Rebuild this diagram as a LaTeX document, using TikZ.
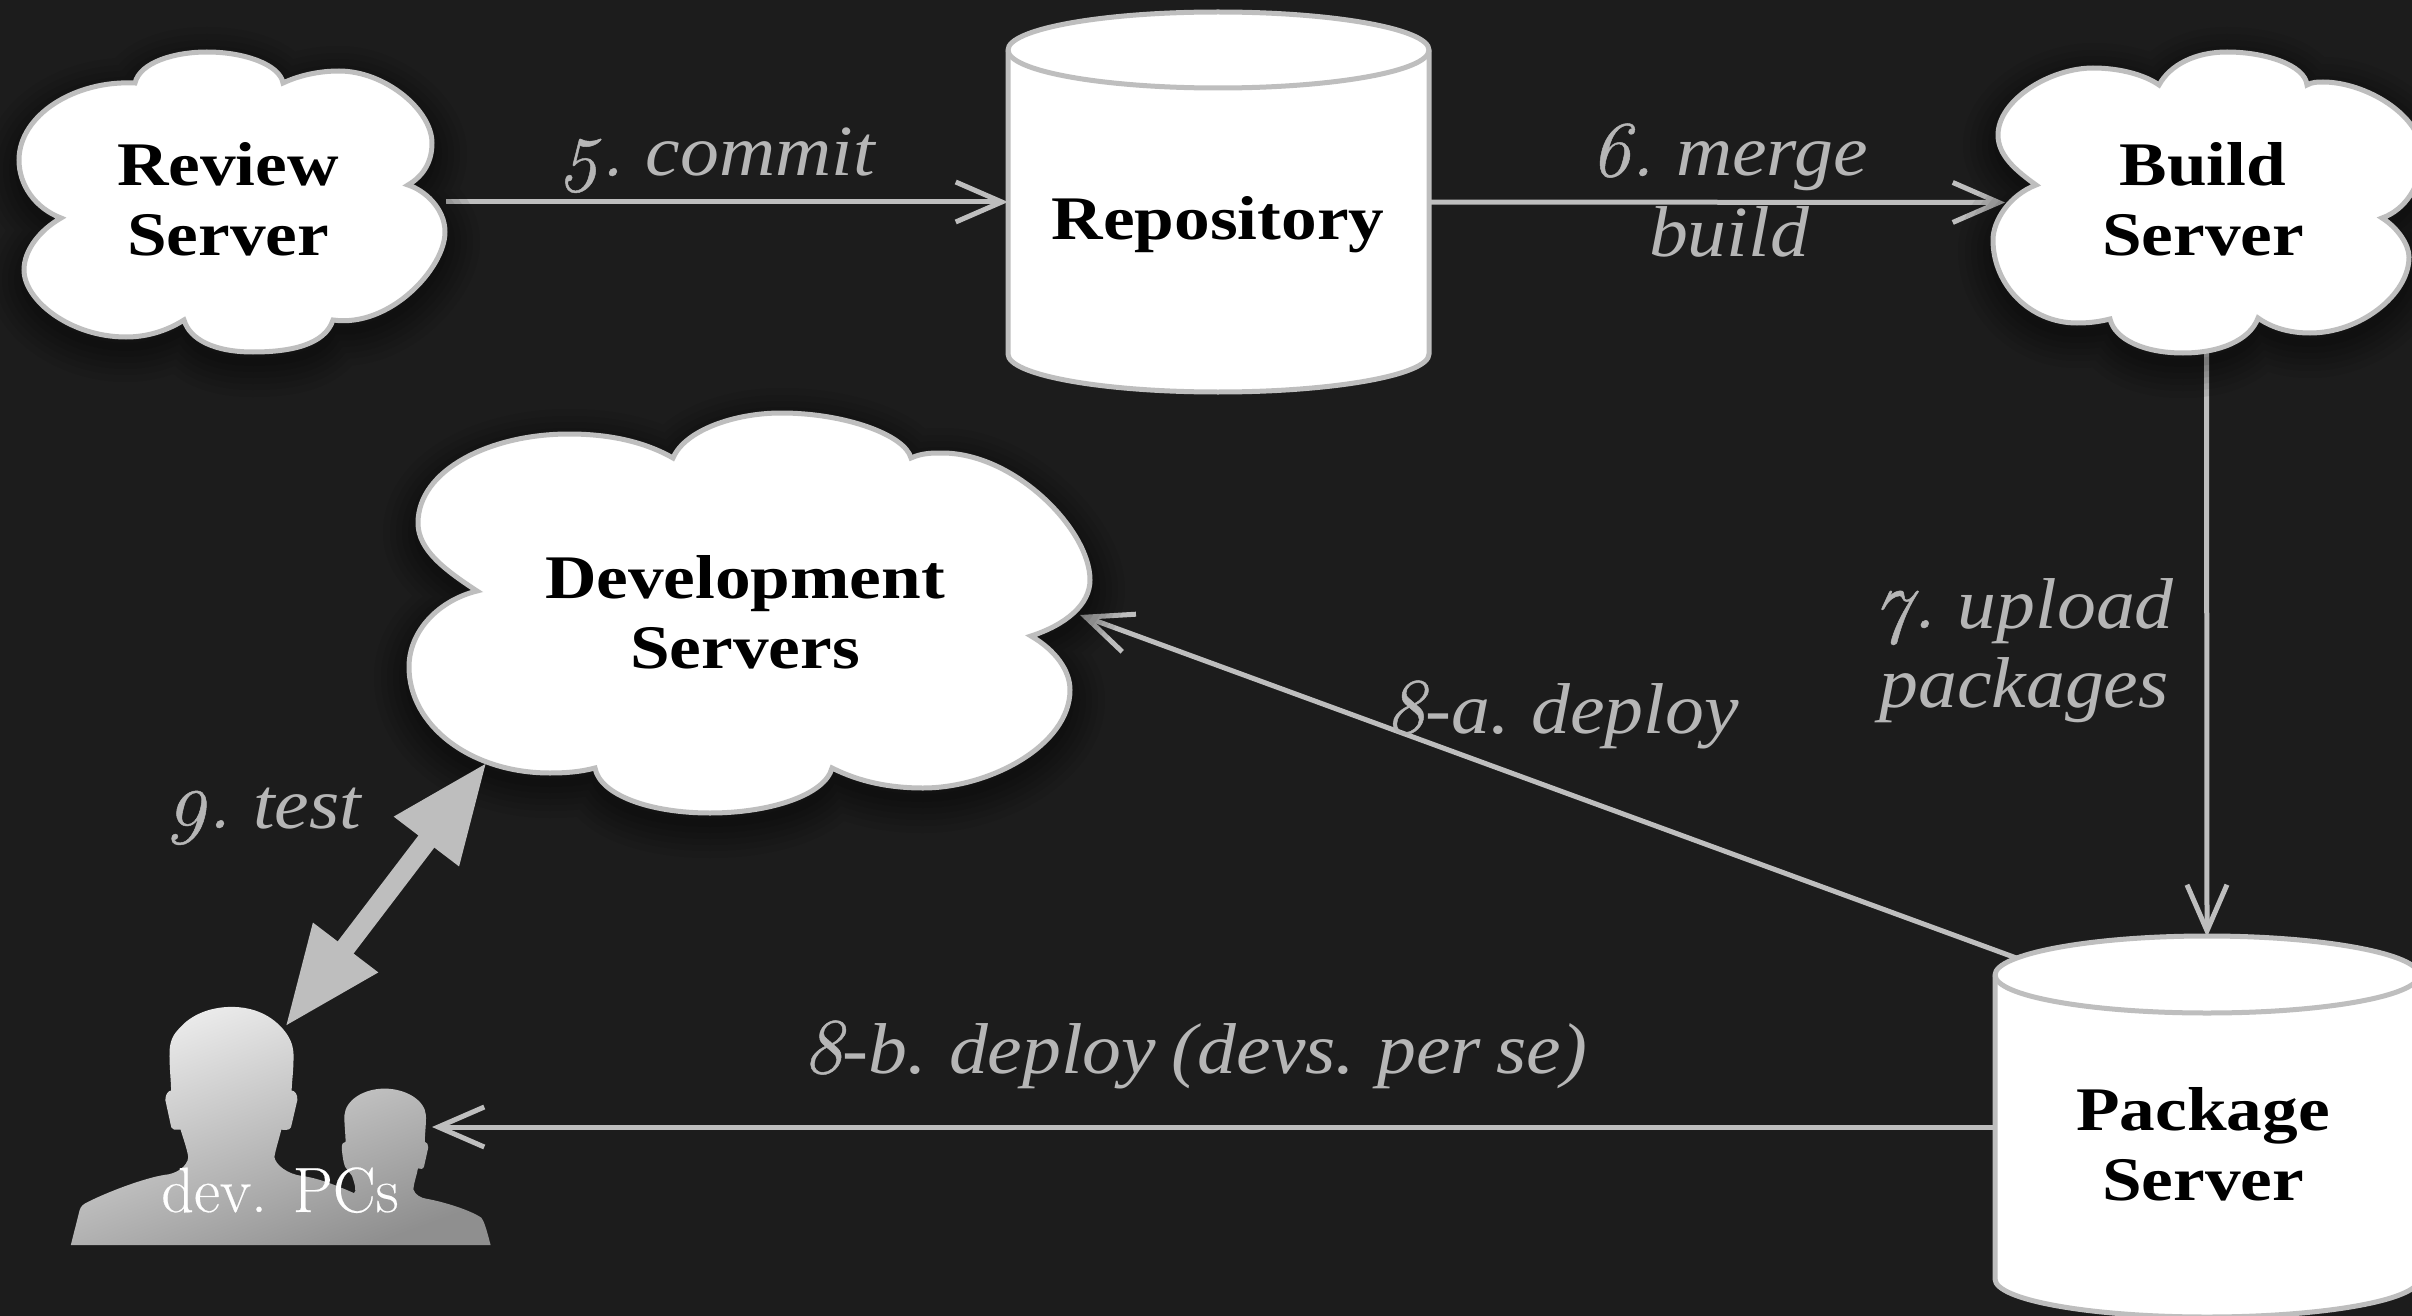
\documentclass[tikz,border=0pt]{standalone}
\usepackage{fontspec}
\usetikzlibrary{arrows.meta,calc}
\newfontfamily\lblfont[FakeStretch=1.08,WordSpace=0.8]{Liberation Serif}
\newfontfamily\srvfont[FakeStretch=1.15]{Liberation Serif}
\newfontfamily\digfont[Numbers=OldStyle,FakeBold=0.6]{Latin Modern Roman}
\newfontfamily\pcfont[FakeBold=0.3]{Latin Modern Roman}
\newcommand\dg[1]{{\digfont\itshape\fontsize{79}{80}\selectfont #1}}
\pgfdeclarelayer{bglayer}\pgfdeclarelayer{connlayer}\pgfdeclarelayer{shapelayer}
\pgfsetlayers{bglayer,connlayer,shapelayer,main}
\definecolor{bgc}{HTML}{1C1C1C}
\definecolor{edgec}{HTML}{BEBEBE}
\definecolor{lblc}{HTML}{B6B6B6}
\def\reviewpath{(135,83) .. controls (140,62) and (175,52) .. (207,52)
 .. controls (245,52) and (280,65) .. (283,83)
 .. controls (300,75) and (320,71) .. (339,71)
 .. controls (385,71) and (432,110) .. (432,143)
 .. controls (432,160) and (425,175) .. (408,185)
 .. controls (424,190) and (445,208) .. (445,232)
 .. controls (445,268) and (390,328) .. (333,320)
 .. controls (325,345) and (290,352) .. (253,352)
 .. controls (215,352) and (190,340) .. (184,320)
 .. controls (165,332) and (145,337) .. (126,337)
 .. controls (70,337) and (24,300) .. (24,270)
 .. controls (24,250) and (40,230) .. (61,218)
 .. controls (35,208) and (19,185) .. (19,160)
 .. controls (19,115) and (75,80) .. (135,83) -- cycle}
\def\devpath{(673,458) .. controls (685,430) and (735,413) .. (781,413)
 .. controls (845,413) and (905,435) .. (911,458)
 .. controls (922,453) and (932,453) .. (942,453)
 .. controls (1015,453) and (1090,530) .. (1090,580)
 .. controls (1090,605) and (1065,625) .. (1031,636)
 .. controls (1055,650) and (1070,670) .. (1070,690)
 .. controls (1070,745) and (990,788) .. (923,788)
 .. controls (890,788) and (860,782) .. (832,768)
 .. controls (825,795) and (770,813) .. (710,813)
 .. controls (650,813) and (600,795) .. (595,768)
 .. controls (580,772) and (565,773) .. (550,773)
 .. controls (470,773) and (409,725) .. (409,667)
 .. controls (409,630) and (440,600) .. (477,591)
 .. controls (445,570) and (418,550) .. (418,523)
 .. controls (418,470) and (490,434) .. (569,434)
 .. controls (610,434) and (645,442) .. (673,458) -- cycle}
\def\buildpath{(2159,85) .. controls (2170,65) and (2195,52) .. (2227,52)
 .. controls (2265,52) and (2305,65) .. (2307,85)
 .. controls (2312,82) and (2318,82) .. (2323,82)
 .. controls (2365,82) and (2422,115) .. (2422,155)
 .. controls (2422,185) and (2405,210) .. (2382,218)
 .. controls (2398,228) and (2409,245) .. (2409,257)
 .. controls (2409,295) and (2360,333) .. (2310,333)
 .. controls (2290,333) and (2272,328) .. (2258,318)
 .. controls (2250,340) and (2220,353) .. (2183,353)
 .. controls (2145,353) and (2115,340) .. (2110,319)
 .. controls (2098,322) and (2088,323) .. (2077,323)
 .. controls (2030,323) and (1993,285) .. (1993,240)
 .. controls (1993,220) and (2010,195) .. (2036,185)
 .. controls (2015,170) and (1998,155) .. (1998,135)
 .. controls (1998,100) and (2050,68) .. (2093,68)
 .. controls (2120,68) and (2145,75) .. (2159,85) -- cycle}
\def\repopath{(1008,50) -- (1008,354) .. controls (1008,375) and (1102,392) .. (1218,392)
 .. controls (1334,392) and (1429,375) .. (1429,354) -- (1429,50)
 .. controls (1429,29) and (1334,12) .. (1218,12) .. controls (1102,12) and (1008,29) .. (1008,50) -- cycle}
\def\pkgpath{(1995,975) -- (1995,1279) .. controls (1995,1300) and (2090,1317) .. (2207,1317)
 .. controls (2324,1317) and (2419,1300) .. (2419,1279) -- (2419,975)
 .. controls (2419,954) and (2324,936) .. (2207,936) .. controls (2090,936) and (1995,954) .. (1995,975) -- cycle}
\newcommand\softshadow[1]{%
 \foreach \w in {70,56,44,32,20,8}{\draw[black,opacity=.07,line width=\w pt,line join=round,shift={(0,10)}] #1;}}
\tikzset{
 thinedge/.style={edgec,line width=5pt},
 shapeedge/.style={draw=edgec,fill=white,line width=5pt,line join=miter,miter limit=10},
 thinarrow/.style={thinedge,-{Straight Barb[length=46pt,width=40pt,line width=5pt]}},
 fatarrow/.style={edgec,line width=20pt,{Triangle[length=100pt,width=76pt]}-{Triangle[length=100pt,width=76pt]}},
 srvtext/.style={text=black,align=center,font=\srvfont\bfseries\fontsize{62}{70}\selectfont,inner sep=0pt},
 lbltext/.style={text=lblc,align=center,anchor=base,font=\lblfont\itshape\fontsize{72}{80}\selectfont,inner sep=0pt},
 outline/.style={inner sep=0pt,outer sep=0pt},
}
\begin{document}
\begin{tikzpicture}[x=1pt,y=-1pt]
\useasboundingbox (0,0) rectangle (2412,1316);
\begin{pgfonlayer}{bglayer}
\fill[bgc] (0,0) rectangle (2412,1316);
\end{pgfonlayer}
% invisible outlines used as connector ports
\node[outline,minimum width=428pt,minimum height=300pt] (reviewO) at (232,202) {};
\node[outline,minimum width=421pt,minimum height=380pt] (repoO) at (1218.5,202) {};
\node[outline,minimum width=403pt,minimum height=301pt] (buildO) at (2206.5,202.5) {};
\node[outline,minimum width=424pt,minimum height=380pt] (pkgO) at (2207,1127) {};
\node[outline,minimum width=662pt,minimum height=400pt] (devO) at (749,615) {};
\coordinate (pkgNW) at (2030,963);
\coordinate (devSW) at (487,762);
\coordinate (pcsTop) at (285,1027);
\coordinate (pcsRight) at (432,1127);
\begin{pgfonlayer}{connlayer}
\draw[thinarrow] (reviewO.east) -- (reviewO.east -| repoO.west);
\draw[thinarrow] (repoO.east) -- (buildO.west);
\draw[thinarrow] (buildO.south) -- (pkgO.north);
\draw[thinarrow] (pkgNW) -- (devO.east);
\draw[thinarrow] (pkgO.west) -- (pcsRight);
\end{pgfonlayer}
\begin{pgfonlayer}{shapelayer}
\softshadow{\reviewpath}
\softshadow{\devpath}
\softshadow{\buildpath}
\draw[shapeedge] \reviewpath;
\draw[shapeedge] \devpath;
\draw[shapeedge] \buildpath;
\draw[shapeedge] \repopath;
\draw[edgec,line width=5pt] (1008,50) .. controls (1008,71) and (1102,88) .. (1218,88) .. controls (1334,88) and (1429,71) .. (1429,50);
\draw[shapeedge] \pkgpath;
\draw[edgec,line width=5pt] (1995,975) .. controls (1995,996) and (2090,1013) .. (2207,1013) .. controls (2324,1013) and (2419,996) .. (2419,975);
% people silhouette
\begin{scope}[shift={(0,720)},xscale=.3827,yscale=.38]
\shade[shading=axis,top color=white!93!black,bottom color=black!44,shading angle=20]
 (185,1382) -- (208,1290) .. controls (212,1278) and (218,1274) .. (230,1268)
 .. controls (290,1238) and (380,1205) .. (430,1197)
 .. controls (460,1195) and (490,1175) .. (492,1150)
 .. controls (488,1125) and (475,1090) .. (472,1078) -- (455,1078)
 .. controls (448,1078) and (447,1070) .. (445,1060) -- (432,1000)
 .. controls (432,985) and (440,975) .. (447,975)
 .. controls (447,950) and (442,910) .. (443,870)
 .. controls (445,840) and (455,825) .. (470,810)
 .. controls (500,775) and (550,755) .. (605,755)
 .. controls (660,755) and (710,775) .. (745,820)
 .. controls (760,840) and (768,860) .. (767,890)
 .. controls (767,920) and (763,950) .. (762,975)
 .. controls (770,975) and (778,985) .. (777,1000) -- (762,1065)
 .. controls (760,1078) and (755,1080) .. (735,1078)
 .. controls (730,1100) and (720,1130) .. (717,1150)
 .. controls (720,1170) and (750,1195) .. (790,1200)
 .. controls (830,1205) and (880,1225) .. (925,1245)
 .. controls (932,1240) and (928,1225) .. (920,1200) -- (905,1180)
 .. controls (897,1175) and (893,1130) .. (893,1125)
 .. controls (893,1115) and (898,1110) .. (903,1110)
 .. controls (903,1090) and (899,1060) .. (900,1040)
 .. controls (903,1000) and (950,970) .. (1005,970)
 .. controls (1060,970) and (1110,1000) .. (1113,1040)
 .. controls (1114,1060) and (1110,1090) .. (1110,1110)
 .. controls (1115,1110) and (1120,1118) .. (1119,1125) -- (1108,1175)
 .. controls (1105,1183) and (1100,1182) .. (1092,1180)
 .. controls (1090,1195) and (1082,1215) .. (1080,1235)
 .. controls (1085,1250) and (1100,1258) .. (1115,1260)
 .. controls (1160,1268) and (1230,1290) .. (1258,1310)
 .. controls (1265,1320) and (1270,1335) .. (1282,1382) -- cycle;
\end{scope}
\draw[fatarrow] (devSW) -- (pcsTop);
\end{pgfonlayer}
% server names
\node[srvtext] (review) at (228,199) {Review\\Server};
\node[srvtext] (repo) at (1218,225) {Repository};
\node[srvtext] (build) at (2203,199) {Build\\Server};
\node[srvtext] (pkg) at (2203,1144) {Package\\Server};
\node[srvtext] (dev) at (745,612) {Development\\Servers};
% labels
\node[lbltext] (l5) at (718,176) {\dg{5.} commit};
\node[lbltext] (l6a) at (1729,176) {\dg{6.} merge};
\node[lbltext] (l6b) at (1729,256) {build};
\node[lbltext] (l7a) at (2024,628) {\dg{7.} upload};
\node[lbltext] (l7b) at (2024,707) {packages};
\node[lbltext] (l8a) at (1562,733) {\dg{8}-a. deploy};
\node[lbltext] (l8b) at (1195,1073) {\dg{8}-b. deploy (devs. per se)};
\node[lbltext] (l9) at (264,828) {\dg{9.} test};
\node[text=white,anchor=base,inner sep=0pt,font=\pcfont\fontsize{64}{70}\selectfont] (pcs) at (280,1212) {dev. PCs};
\end{tikzpicture}
\end{document}
